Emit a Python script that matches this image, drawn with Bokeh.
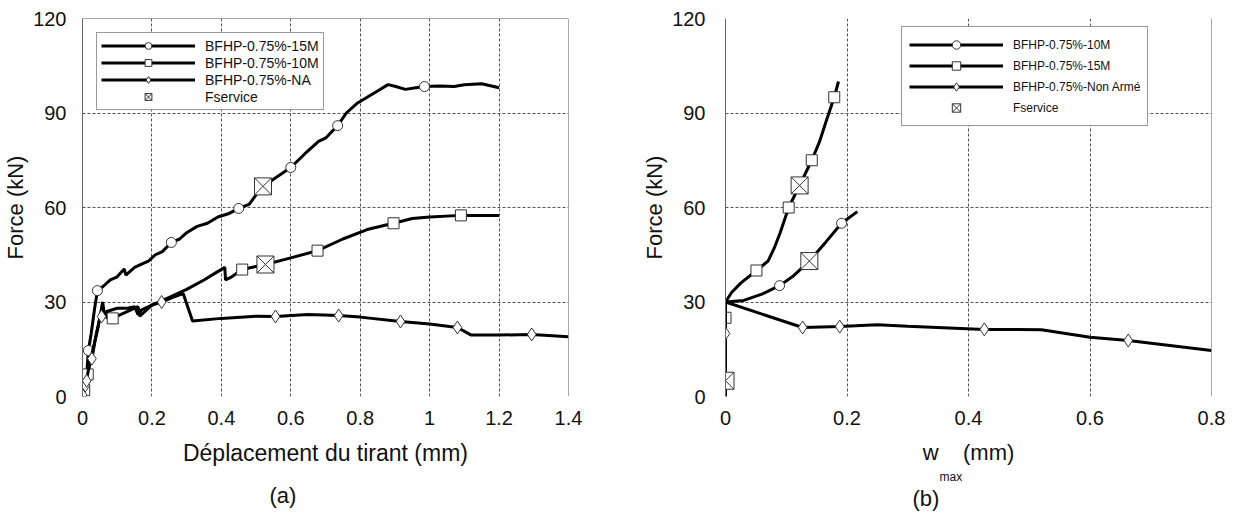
from bokeh.plotting import figure
from bokeh.layouts import row
from bokeh.models import Range1d, FixedTicker, Legend, LegendItem, Span, Title
from bokeh.embed import file_html
from bokeh.resources import INLINE

FONT = "Liberation Sans"

# ---------------- Panel (a): Force vs displacement ----------------
a_xticks = [0, 0.2, 0.4, 0.6, 0.8, 1, 1.2, 1.4]
a_xlabels = ["0", "0.2", "0.4", "0.6", "0.8", "1", "1.2", "1.4"]
yticks = [0, 30, 60, 90, 120]
ylabels = ["0", "30", "60", "90", "120"]

a15_x = [0, 0.005, 0.012, 0.017, 0.025, 0.035, 0.043, 0.06, 0.08, 0.1, 0.12, 0.125, 0.15, 0.17,
         0.19, 0.21, 0.23, 0.256, 0.28, 0.3, 0.33, 0.36, 0.39, 0.42, 0.45, 0.48, 0.5, 0.52, 0.55,
         0.6, 0.64, 0.68, 0.7, 0.735, 0.76, 0.79, 0.82, 0.85, 0.88, 0.9, 0.93, 0.96, 0.985, 1.03,
         1.07, 1.1, 1.15, 1.2]
a15_f = [0, 2, 7, 14.6, 20, 28, 33.6, 35, 37, 38, 40.5, 38.5, 41, 42, 43, 45, 46, 48.9, 50, 52,
         54, 55, 57, 58, 59.7, 61, 64, 66.7, 69, 72.7, 77, 81, 82, 86, 90, 93, 95, 97, 99, 98.5,
         97.5, 98, 98.4, 98.6, 98.4, 99, 99.3, 98]
a15_mx = [0.003, 0.017, 0.043, 0.256, 0.45, 0.6, 0.735, 0.985]
a15_mf = [1.5, 14.6, 33.6, 48.9, 59.7, 72.7, 86, 98.4]

a10_x = [0, 0.008, 0.015, 0.03, 0.045, 0.058, 0.062, 0.07, 0.087, 0.1, 0.13, 0.16, 0.165, 0.18,
         0.2, 0.25, 0.3, 0.35, 0.38, 0.41, 0.412, 0.43, 0.46, 0.5, 0.527, 0.6, 0.677, 0.75, 0.82,
         0.896, 0.95, 1.0, 1.09, 1.2]
a10_f = [0, 3, 7, 15, 22, 30, 27, 25, 24.8, 25.5, 27, 28.5, 25.5, 27, 29, 31.5, 34, 37, 39, 41,
         37, 38, 40.3, 41.3, 41.9, 44, 46.3, 50, 53, 55, 56.5, 57, 57.5, 57.5]
a10_mx = [0.005, 0.015, 0.087, 0.46, 0.677, 0.896, 1.09]
a10_mf = [2, 7, 24.8, 40.3, 46.3, 55, 57.5]

aNA_x = [0, 0.003, 0.01, 0.02, 0.027, 0.04, 0.05, 0.055, 0.07, 0.1, 0.13, 0.15, 0.16, 0.17, 0.2,
         0.228, 0.26, 0.29, 0.317, 0.4, 0.5, 0.556, 0.65, 0.738, 0.8, 0.916, 1.0, 1.08, 1.12, 1.2,
         1.294, 1.4]
aNA_f = [0, 1, 4.5, 10, 12, 20, 25, 25.4, 27, 28, 28, 28.5, 26, 27.5, 29, 30, 31.5, 32.7, 24,
         24.8, 25.5, 25.4, 26, 25.7, 25.2, 23.8, 23, 21.9, 19.5, 19.5, 19.7, 19]
aNA_mx = [0.0, 0.008, 0.012, 0.027, 0.055, 0.228, 0.556, 0.738, 0.916, 1.08, 1.294]
aNA_mf = [0.5, 3.5, 5, 12, 25.4, 30, 25.4, 25.7, 23.8, 21.9, 19.7]

a_fs_x = [0.52, 0.527]
a_fs_f = [66.7, 41.9]

# ---------------- Panel (b): Force vs w_max ----------------
b_xticks = [0, 0.2, 0.4, 0.6, 0.8]
b_xlabels = ["0", "0.2", "0.4", "0.6", "0.8"]

b15_x = [0, 0, 0, 0, 0.01, 0.025, 0.051, 0.07, 0.08, 0.09, 0.104, 0.122, 0.142, 0.155, 0.165,
         0.179, 0.186]
b15_f = [0, 5, 25, 30, 33, 36, 40, 43, 47, 52, 60, 67, 75, 81, 87, 95, 100]
b15_mx = [0.0, 0.051, 0.104, 0.142, 0.179]
b15_mf = [25, 40, 60, 75, 95]

b10_x = [0, 0.03, 0.06, 0.089, 0.11, 0.138, 0.165, 0.191, 0.217]
b10_f = [30, 30.5, 32.5, 35.2, 38, 43, 49, 55, 58.7]
b10_mx = [0.089, 0.191]
b10_mf = [35.2, 55]

bNA_x = [0, 0, 0, 0, 0.127, 0.188, 0.25, 0.3, 0.426, 0.52, 0.6, 0.663, 0.8]
bNA_f = [0, 5, 20, 30, 21.9, 22.2, 22.8, 22.3, 21.3, 21.2, 18.8, 17.8, 14.6]
bNA_mx = [0.0, 0.0, 0.127, 0.188, 0.426, 0.663]
bNA_mf = [5, 20, 21.9, 22.2, 21.3, 17.8]

b_fs_x = [0.0, 0.122, 0.138]
b_fs_f = [5, 67, 43]


def base_fig(xr, xticks, xlabels, mleft, mright, mtop, mbottom, standoff):
    p = figure(frame_width=486, frame_height=378, x_range=Range1d(*xr), y_range=Range1d(0, 120),
               output_backend="svg", toolbar_location=None,
               min_border_left=mleft, min_border_right=mright,
               min_border_top=mtop, min_border_bottom=mbottom)
    p.outline_line_color = None
    p.background_fill_color = "white"
    p.border_fill_color = "white"
    p.xaxis.ticker = FixedTicker(ticks=xticks)
    p.xaxis.major_label_overrides = dict(zip(xticks, xlabels))
    p.yaxis.ticker = FixedTicker(ticks=yticks)
    p.yaxis.major_label_overrides = dict(zip(yticks, ylabels))
    for ax in (p.xaxis, p.yaxis):
        ax.major_tick_in = 0
        ax.major_tick_out = 0
        ax.minor_tick_line_color = None
        ax.major_label_text_font = FONT
        ax.major_label_text_font_size = "20px"
        ax.major_label_text_color = "#111111"
        ax.axis_label_text_font = FONT
        ax.axis_label_text_font_size = "22px"
        ax.axis_label_text_font_style = "normal"
        ax.axis_label_text_color = "#111111"
    p.xaxis.axis_line_color = None
    p.xaxis.major_label_standoff = 14
    p.xaxis.axis_label_standoff = 12
    p.yaxis.axis_line_color = "#666666"
    p.yaxis.major_label_standoff = standoff
    p.yaxis.axis_label_standoff = 2
    p.yaxis.axis_label = "Force (kN)"
    for g in (p.xgrid, p.ygrid):
        g.grid_line_color = "#555555"
        g.grid_line_dash = "3 2"
        g.grid_line_width = 1
    p.add_layout(Span(location=p.x_range.end, dimension="height", line_color="#555555", line_width=1))
    return p


def series(p, x, f, mx, mf, marker, size):
    ln = p.line(x, f, line_color="black", line_width=3)
    sc = p.scatter(mx, mf, marker=marker, size=size, fill_color="white", line_color="#333333",
                   line_width=1)
    return ln, sc


def style_legend(leg, pad, gh, spacing, fsize):
    leg.label_text_font = FONT
    leg.label_text_font_size = fsize
    leg.label_text_color = "#111111"
    leg.glyph_width = 94
    leg.glyph_height = gh
    leg.label_height = 14
    leg.label_standoff = 10
    leg.padding = pad
    leg.spacing = spacing
    leg.border_line_color = "#333333"
    leg.border_line_width = 1
    leg.background_fill_alpha = 1.0


def caption(text, offset, standoff, size="22px"):
    return Title(text=text, align="left", offset=offset, standoff=standoff,
                 text_font=FONT, text_font_size=size, text_font_style="normal",
                 text_color="#111111")


# ---- figure (a)
pa = base_fig((0, 1.4), a_xticks, a_xlabels, 75, 71, 17, 100, 16)
pa.xaxis.axis_label = "Déplacement du tirant (mm)"
pa.xaxis.axis_label_text_font_size = "23px"
pa.add_layout(Span(location=pa.y_range.end, dimension="width", line_color="#555555", line_width=1))
l1, s1 = series(pa, a15_x, a15_f, a15_mx, a15_mf, "circle", 10)
l2, s2 = series(pa, a10_x, a10_f, a10_mx, a10_mf, "square", 11)
l3, s3 = series(pa, aNA_x, aNA_f, aNA_mx, aNA_mf, "diamond", 13)
fs_a = pa.scatter(a_fs_x, a_fs_f, marker="square_x", size=17, fill_color="white",
                  line_color="#333333", line_width=1)
leg_a = Legend(items=[LegendItem(label="BFHP-0.75%-15M", renderers=[l1, s1]),
                      LegendItem(label="BFHP-0.75%-10M", renderers=[l2, s2]),
                      LegendItem(label="BFHP-0.75%-NA", renderers=[l3, s3]),
                      LegendItem(label="Fservice", renderers=[fs_a])],
               location=(14, 286))
style_legend(leg_a, 4, 17, 0, "14px")
pa.add_layout(leg_a)
pa.add_layout(caption("(a)", 187, 25), "below")

# ---- figure (b)
pb = base_fig((0, 0.8), b_xticks, b_xlabels, 85, 15, 18, 100, 20)
pb.xaxis.axis_label = "w\u00a0\u00a0\u00a0\u00a0(mm)"
m1, t1 = series(pb, b10_x, b10_f, b10_mx, b10_mf, "circle", 10)
m2, t2 = series(pb, b15_x, b15_f, b15_mx, b15_mf, "square", 11)
m3, t3 = series(pb, bNA_x, bNA_f, bNA_mx, bNA_mf, "diamond", 13)
fs_b = pb.scatter(b_fs_x, b_fs_f, marker="square_x", size=17, fill_color="white",
                  line_color="#333333", line_width=1)
leg_b = Legend(items=[LegendItem(label="BFHP-0.75%-10M", renderers=[m1, t1]),
                      LegendItem(label="BFHP-0.75%-15M", renderers=[m2, t2]),
                      LegendItem(label="BFHP-0.75%-Non Armé", renderers=[m3, t3]),
                      LegendItem(label="Fservice", renderers=[fs_b])],
               location=(176, 270))
style_legend(leg_b, 7, 21, 0, "12px")
pb.add_layout(leg_b)
pb.add_layout(caption("max", 214, 0, "12px"), "below")
pb.add_layout(caption("(b)", 187, 1), "below")

layout = row(pa, pb)
open("out.html", "w").write(file_html(layout, INLINE))
